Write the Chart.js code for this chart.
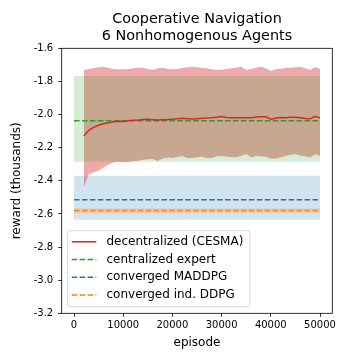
<!DOCTYPE html>
<html><head><meta charset="utf-8">
<script src="https://cdn.jsdelivr.net/npm/chart.js@4/dist/chart.umd.min.js"></script>
<style>html,body{margin:0;padding:0;background:#fff}#wrap{width:344px;height:357px}</style>
</head><body><div id="wrap"><canvas id="c" width="344" height="357"></canvas></div>
<script>
const titleLines = ['Cooperative Navigation', '6 Nonhomogenous Agents'];
const xAxisLabel = 'episode';
const yAxisLabel = 'reward (thousands)';
const xTickValues = [0, 10000, 20000, 30000, 40000, 50000];
const xTickLabels = ['0', '10000', '20000', '30000', '40000', '50000'];
const yTickValues = [-3.2, -3.0, -2.8, -2.6, -2.4, -2.2, -2.0, -1.8, -1.6];
const yTickLabels = ['-3.2', '-3.0', '-2.8', '-2.6', '-2.4', '-2.2', '-2.0', '-1.8', '-1.6'];
const seriesLabels = ['decentralized (CESMA)', 'centralized expert', 'converged MADDPG', 'converged ind. DDPG'];

const episodes = [2000, 3000, 4000, 5000, 6000, 7000, 8000, 9000, 10000, 11000, 12000, 13000, 14000, 15000, 16000, 17000, 18000, 19000, 20000, 21000, 22000, 23000, 24000, 25000, 26000, 27000, 28000, 29000, 30000, 31000, 32000, 33000, 34000, 35000, 36000, 37000, 38000, 39000, 40000, 41000, 42000, 43000, 44000, 45000, 46000, 47000, 48000, 49000, 50000];
const cesmaMean = [-2.130, -2.095, -2.077, -2.065, -2.056, -2.050, -2.043, -2.040, -2.042, -2.038, -2.035, -2.033, -2.030, -2.029, -2.031, -2.033, -2.031, -2.030, -2.028, -2.026, -2.023, -2.025, -2.027, -2.025, -2.022, -2.021, -2.019, -2.016, -2.012, -2.018, -2.020, -2.020, -2.019, -2.020, -2.019, -2.015, -2.013, -2.014, -2.028, -2.022, -2.018, -2.020, -2.017, -2.016, -2.020, -2.024, -2.026, -2.011, -2.020];
const cesmaUpper = [-1.731, -1.725, -1.721, -1.715, -1.711, -1.719, -1.725, -1.727, -1.727, -1.725, -1.722, -1.717, -1.717, -1.725, -1.731, -1.721, -1.717, -1.723, -1.727, -1.725, -1.719, -1.715, -1.711, -1.715, -1.717, -1.721, -1.727, -1.731, -1.729, -1.725, -1.721, -1.717, -1.711, -1.731, -1.723, -1.717, -1.711, -1.721, -1.737, -1.727, -1.723, -1.719, -1.717, -1.715, -1.711, -1.721, -1.731, -1.713, -1.725];
const cesmaLower = [-2.440, -2.360, -2.348, -2.340, -2.320, -2.302, -2.290, -2.285, -2.288, -2.286, -2.282, -2.279, -2.273, -2.270, -2.268, -2.281, -2.265, -2.260, -2.262, -2.256, -2.250, -2.263, -2.262, -2.258, -2.254, -2.262, -2.262, -2.252, -2.251, -2.254, -2.256, -2.258, -2.248, -2.238, -2.258, -2.250, -2.252, -2.255, -2.265, -2.266, -2.258, -2.250, -2.243, -2.238, -2.248, -2.252, -2.258, -2.240, -2.250];

const baselineSpan = [0, 50000];
const expertMean = -2.037, expertUpper = -1.767, expertLower = -2.285;
const maddpgMean = -2.514, maddpgUpper = -2.369, maddpgLower = -2.635;
const ddpgMean = -2.580, ddpgUpper = -2.565, ddpgLower = -2.595;

const FONT = "'DejaVu Sans', sans-serif";
const C_RED = '#d62728', C_GREEN = '#2ca02c', C_BLUE = '#1f77b4', C_ORANGE = '#ff7f0e';
const DASH = [5.55, 2.4];

const pts = (xs, ys) => xs.map((x, i) => ({x, y: ys[i]}));
const flat = v => baselineSpan.map(x => ({x, y: v}));
const band = (data, fillIdx, color, order) => ({data, fill: fillIdx, backgroundColor: color, borderWidth: 0, pointRadius: 0, order, tension: 0});
const edge = (data, order) => ({data, fill: false, borderWidth: 0, pointRadius: 0, order, tension: 0});
const line = (data, color, dash, order) => ({data, fill: false, borderColor: color, borderWidth: 1.5, borderDash: dash, pointRadius: 0, order, tension: 0});

const datasets = [
  band(pts(episodes, cesmaUpper), 1, 'rgba(214,39,40,0.4)', 6),
  edge(pts(episodes, cesmaLower), 6),
  line(pts(episodes, cesmaMean), C_RED, [], 0),
  band(flat(expertUpper), 4, 'rgba(44,160,44,0.2)', 5),
  edge(flat(expertLower), 5),
  line(flat(expertMean), C_GREEN, DASH, 1),
  band(flat(maddpgUpper), 7, 'rgba(31,119,180,0.2)', 8),
  edge(flat(maddpgLower), 8),
  line(flat(maddpgMean), C_BLUE, DASH, 3),
  band(flat(ddpgUpper), 10, 'rgba(255,127,14,0.2)', 7),
  edge(flat(ddpgLower), 7),
  line(flat(ddpgMean), C_ORANGE, DASH, 2)
];
const legendItems = [
  {text: seriesLabels[0], color: C_RED, dash: []},
  {text: seriesLabels[1], color: C_GREEN, dash: DASH},
  {text: seriesLabels[2], color: C_BLUE, dash: DASH},
  {text: seriesLabels[3], color: C_ORANGE, dash: DASH}
];

const decor = {
  id: 'decor',
  afterDraw(chart) {
    const {ctx, chartArea: a} = chart;
    ctx.save();
    // axes box
    ctx.strokeStyle = '#000'; ctx.lineWidth = 0.8; ctx.setLineDash([]);
    ctx.strokeRect(a.left, a.top, a.right - a.left, a.bottom - a.top);
    // title
    ctx.fillStyle = '#000'; ctx.font = '14.4px ' + FONT;
    ctx.textAlign = 'center'; ctx.textBaseline = 'middle';
    const cx = (a.left + a.right) / 2;
    ctx.fillText(titleLines[0], cx, 19.5);
    ctx.fillText(titleLines[1], cx, 35.8);
    // legend
    const bx = 67.7, by = 230.7, bw = 182.3, bh = 76, r = 2.5;
    ctx.beginPath();
    ctx.moveTo(bx + r, by); ctx.lineTo(bx + bw - r, by); ctx.arcTo(bx + bw, by, bx + bw, by + r, r);
    ctx.lineTo(bx + bw, by + bh - r); ctx.arcTo(bx + bw, by + bh, bx + bw - r, by + bh, r);
    ctx.lineTo(bx + r, by + bh); ctx.arcTo(bx, by + bh, bx, by + bh - r, r);
    ctx.lineTo(bx, by + r); ctx.arcTo(bx, by, bx + r, by, r); ctx.closePath();
    ctx.fillStyle = 'rgba(255,255,255,0.8)'; ctx.fill();
    ctx.strokeStyle = '#cccccc'; ctx.lineWidth = 0.8; ctx.stroke();
    ctx.font = '12px ' + FONT; ctx.textAlign = 'left'; ctx.textBaseline = 'middle';
    legendItems.forEach((it, i) => {
      const y = 241.8 + i * 17.7;
      ctx.beginPath(); ctx.setLineDash(it.dash); ctx.strokeStyle = it.color; ctx.lineWidth = 1.5;
      ctx.moveTo(71.7, y); ctx.lineTo(96.3, y); ctx.stroke();
      ctx.setLineDash([]); ctx.fillStyle = '#000';
      ctx.fillText(it.text, 106.5, y);
    });
    ctx.restore();
  }
};

new Chart(document.getElementById('c'), {
  type: 'line',
  data: {datasets},
  options: {
    responsive: false, animation: false, devicePixelRatio: 1,
    layout: {padding: {left: 0, right: 11.7, top: 48.3, bottom: 0}},
    plugins: {legend: {display: false}, title: {display: false}, tooltip: {enabled: false}},
    scales: {
      x: {
        type: 'linear', min: -2500, max: 52500,
        afterBuildTicks: s => { s.ticks = xTickValues.map(v => ({value: v})); },
        afterFit: s => { s.height = 357 - 313.3; },
        ticks: {callback: v => xTickLabels[xTickValues.indexOf(v)], maxRotation: 0, autoSkip: false, color: '#000', font: {family: FONT, size: 10}, padding: 3},
        grid: {drawOnChartArea: false, drawTicks: true, tickLength: 3.5, color: '#000', lineWidth: 0.8},
        border: {display: false},
        title: {display: true, text: xAxisLabel, color: '#000', font: {family: FONT, size: 12}, padding: {top: 0, bottom: 7}}
      },
      y: {
        type: 'linear', min: -3.2, max: -1.6,
        afterBuildTicks: s => { s.ticks = yTickValues.map(v => ({value: v})); },
        afterFit: s => { s.width = 61.7; },
        ticks: {callback: v => yTickLabels[yTickValues.findIndex(t => Math.abs(t - v) < 1e-6)], autoSkip: false, color: '#000', font: {family: FONT, size: 10}, padding: 5},
        grid: {drawOnChartArea: false, drawTicks: true, tickLength: 3.5, color: '#000', lineWidth: 0.8},
        border: {display: false},
        title: {display: true, text: yAxisLabel, color: '#000', font: {family: FONT, size: 12}, padding: {top: 10, bottom: 0}}
      }
    }
  },
  plugins: [decor]
});
</script></body></html>
